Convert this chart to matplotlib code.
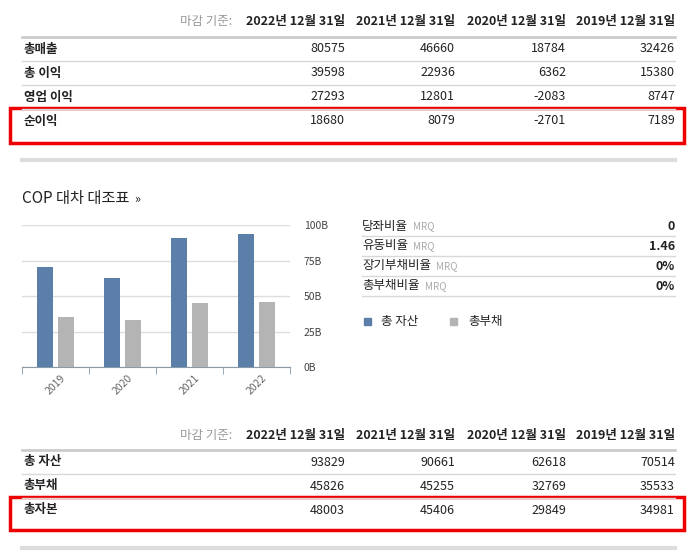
import matplotlib
matplotlib.use("Agg")
import matplotlib.pyplot as plt
from matplotlib.patches import Rectangle
from matplotlib.lines import Line2D
import numpy as np

plt.rcParams['font.family'] = ['Noto Sans CJK KR', 'DejaVu Sans']

# data
dates = ['2022년 12월 31일', '2021년 12월 31일', '2020년 12월 31일', '2019년 12월 31일']
income_rows = ['총매출', '총 이익', '영업 이익', '순이익']
income_vals = [[80575, 46660, 18784, 32426],
               [39598, 22936, 6362, 15380],
               [27293, 12801, -2083, 8747],
               [18680, 8079, -2701, 7189]]
balance_rows = ['총 자산', '총부채', '총자본']
balance_vals = [[93829, 90661, 62618, 70514],
                [45826, 45255, 32769, 35533],
                [48003, 45406, 29849, 34981]]
years = ['2019', '2020', '2021', '2022']
assets_b = [70.514, 62.618, 90.661, 93.829]
liab_b = [35.533, 32.769, 45.255, 45.826]
ratio_names = ['당좌비율', '유동비율', '장기부채비율', '총부채비율']
ratio_vals = ['0', '1.46', '0%', '0%']

W, H = 687, 555
fig = plt.figure(figsize=(W / 100, H / 100), dpi=100)
BLUE = '#5b7fa8'
GRAY = '#b4b4b4'
TXT = '#222222'


def T(x, y, s, **kw):
    kw.setdefault('va', 'center')
    kw.setdefault('fontsize', 9)
    kw.setdefault('color', TXT)
    fig.text(x / W, 1 - y / H, s, **kw)


def L(x0, x1, y, color='#d8d8d8', lw=1):
    fig.add_artist(Line2D([x0 / W, x1 / W], [1 - y / H, 1 - y / H], color=color, lw=lw))


def box(x0, y0, x1, y1):
    fig.add_artist(Rectangle((x0 / W, 1 - y1 / H), (x1 - x0) / W, (y1 - y0) / H,
                             fill=False, ec='#ee0000', lw=2.5))


col_right = [345, 455, 566, 675]


def table(y_head, rows, vals):
    T(232, y_head, '마감 기준:', ha='right', color='#999999')
    for xr, d in zip(col_right, dates):
        T(xr, y_head, d, ha='right', fontweight='bold')
    L(22, 675, y_head + 15, color='#cccccc', lw=2)
    for i, (name, v) in enumerate(zip(rows, vals)):
        y = y_head + 27 + 24 * i
        T(24, y, name, fontweight='bold')
        for xr, val in zip(col_right, v):
            T(xr, y, str(val), ha='right')
        if i < len(rows) - 1:
            L(22, 675, y + 12)


table(22, income_rows, income_vals)
box(10, 108, 684, 143)
L(22, 675, 160, color='#dddddd', lw=3)

T(22, 198, 'COP 대차 대조표', fontsize=11)
T(134, 199, '»', fontsize=9)

# bar chart
ax = fig.add_axes([22 / W, 1 - 367 / H, (290 - 22) / W, (367 - 225) / H])
x = np.arange(len(years))
ax.bar(x - 0.15, assets_b, 0.24, color=BLUE, zorder=3)
ax.bar(x + 0.15, liab_b, 0.24, color=GRAY, zorder=3)
ax.set_xlim(-0.5, 3.5)
ax.set_ylim(0, 100)
ax.set_yticks([0, 25, 50, 75, 100])
ax.set_yticklabels(['0B', '25B', '50B', '75B', '100B'])
ax.yaxis.tick_right()
ax.tick_params(axis='y', length=0, labelsize=7.5, labelcolor='#444444', pad=10)
ax.grid(axis='y', color='#dddddd', lw=1, zorder=0)
ax.set_xticks(x)
ax.set_xticklabels(years, rotation=45, fontsize=7.5, color='#666666')
ax.tick_params(axis='x', length=0, pad=4)
ax.set_xticks(np.arange(-0.5, 4, 1), minor=True)
ax.tick_params(axis='x', which='minor', length=5, color='#8899aa')
for s in ['top', 'left', 'right']:
    ax.spines[s].set_visible(False)
ax.spines['bottom'].set_color('#8899aa')

# ratios
for i, (n, v) in enumerate(zip(ratio_names, ratio_vals)):
    y = 226 + 20 * i
    T(362, y, n)
    T(362 + 11.3 * len(n) + 6, y, 'MRQ', fontsize=7, color='#aaaaaa')
    T(675, y, v, ha='right', fontweight='bold')
    L(362, 675, y + 10)

fig.add_artist(Rectangle((364 / W, 1 - 325 / H), 7 / W, 7 / H, color=BLUE))
T(381, 321, '총 자산')
fig.add_artist(Rectangle((450 / W, 1 - 325 / H), 7 / W, 7 / H, color=GRAY))
T(468, 321, '총부채')

table(435, balance_rows, balance_vals)
box(10, 497, 684, 530)
L(22, 675, 548, color='#dddddd', lw=3)

fig.savefig('out.png', dpi=100)
